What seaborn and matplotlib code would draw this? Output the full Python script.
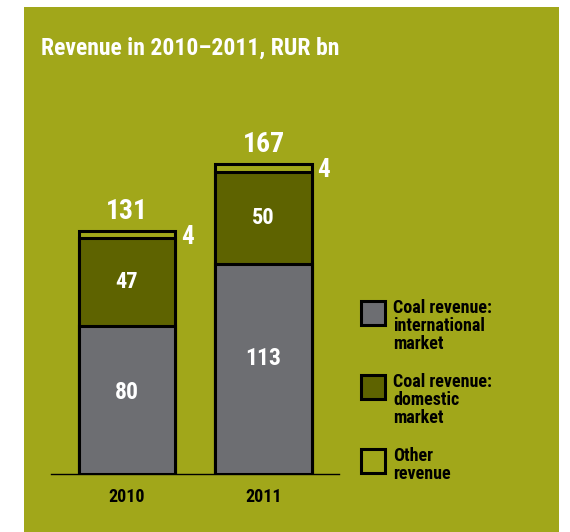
import matplotlib
matplotlib.use("Agg")
import matplotlib.pyplot as plt
from matplotlib.patches import Rectangle
import pandas as pd
import seaborn as sns

# --- data (RUR bn) ---
years = ["2010", "2011"]
coal_international = [80, 113]
coal_domestic = [47, 50]
other_revenue = [4, 4]
totals = [131, 167]

legend_labels = [
    "Coal revenue:\ninternational\nmarket",
    "Coal revenue:\ndomestic\nmarket",
    "Other\nrevenue",
]
title = "Revenue in 2010–2011, RUR bn"

# --- style ---
PANEL = "#A1A71A"
GREY = "#6D6E72"
OLIVE = "#5E6300"
sns.set_theme(style="white")
FONT = ["Roboto Condensed", "DejaVu Sans"]
plt.rcParams["font.family"] = FONT
plt.rcParams["font.weight"] = "bold"

W, H = 570, 532
fig = plt.figure(figsize=(W / 100, H / 100), dpi=100)
fig.patch.set_facecolor("white")


def fx(px):
    return px / W


def fy(py):
    return 1 - py / H


# coloured background panel (behind the axes)
fig.patches.append(Rectangle((fx(24), 0), fx(559 - 24), 1 - 7 / H,
                             transform=fig.transFigure, facecolor=PANEL,
                             edgecolor="none", zorder=-5))

# plotting area
ax = fig.add_axes([fx(51), fy(474), fx(288), 374 / H])
ax.set_facecolor("none")

df = pd.DataFrame({
    "year": years,
    "intl": coal_international,
    "dom": coal_domestic,
    "other": other_revenue,
})
df["top_dom"] = df["intl"] + df["dom"]
df["top_all"] = df["top_dom"] + df["other"]

bar_kw = dict(x="year", order=years, width=0.71, saturation=1,
              edgecolor="black", linewidth=2.2, ax=ax)
sns.barplot(data=df, y="top_all", color=PANEL, **bar_kw)
sns.barplot(data=df, y="top_dom", color=OLIVE, **bar_kw)
sns.barplot(data=df, y="intl", color=GREY, **bar_kw)

ax.set_xlim(-0.557, 1.553)
ax.set_ylim(0, 374 / 1.855)
ax.set_xlabel("")
ax.set_ylabel("")
ax.set_yticks([])
for side in ["top", "right", "left"]:
    ax.spines[side].set_visible(False)
ax.spines["bottom"].set_color("black")
ax.spines["bottom"].set_linewidth(1.0)
ax.tick_params(axis="x", length=0, pad=10, labelsize=13, labelcolor="black")
for lab in ax.get_xticklabels():
    lab.set_fontweight("bold")

# value labels
for i in range(len(years)):
    intl = coal_international[i]
    dom = coal_domestic[i]
    ax.text(i, intl * 0.55, f"{intl}", ha="center", va="center",
            color="white", fontsize=17, fontweight="bold")
    ax.text(i, intl + dom / 2, f"{dom}", ha="center", va="center",
            color="white", fontsize=16, fontweight="bold")
    ax.text(i + 0.44, totals[i] - 7, f"{other_revenue[i]}", ha="center",
            va="baseline", color="white", fontsize=18, fontweight="bold")
    ax.text(i, totals[i] + 6.5, f"{totals[i]}", ha="center", va="baseline",
            color="white", fontsize=20, fontweight="bold")

# title
fig.text(fx(41), fy(55), title, ha="left", va="baseline", color="white",
         fontsize=17, fontweight="bold")

# legend
legend_colors = [GREY, OLIVE, PANEL]
legend_tops = [300, 374, 448]
for col, lab, top in zip(legend_colors, legend_labels, legend_tops):
    fig.patches.append(Rectangle((fx(360.5), fy(top + 24.5)), fx(24), 24 / H,
                                 transform=fig.transFigure, facecolor=col,
                                 edgecolor="black", linewidth=2.2, zorder=3))
    fig.text(fx(393), fy(top - 1), lab, ha="left", va="top", color="black",
             fontsize=13, fontweight="bold", linespacing=1.0)

fig.savefig("out.png", dpi=100, facecolor="white")
